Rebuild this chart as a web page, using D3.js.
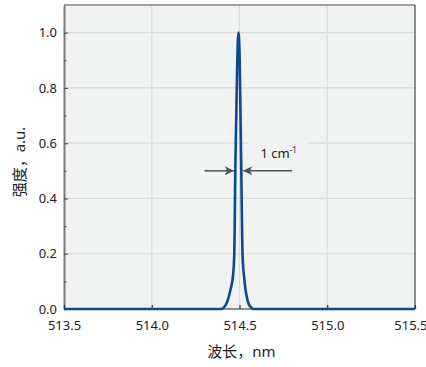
<!DOCTYPE html>
<html>
<head>
<meta charset="utf-8">
<script src="https://cdn.jsdelivr.net/npm/d3@7"></script>
<style>
  body { margin: 0; background: #fff; }
  text { font-family: "Noto Sans", "Noto Sans CJK SC", sans-serif; fill: #222; }
</style>
</head>
<body>
<div id="chart"></div>
<script>
// spectrum (wavelength in nm, normalised intensity)
var wavelength = [513.5, 513.8, 514.1, 514.3, 514.397, 514.4143, 514.4257, 514.4371, 514.4486, 514.4629,
    514.4703, 514.4726, 514.476, 514.4817, 514.4874, 514.4943, 514.5011, 514.5057, 514.5103, 514.5143,
    514.5171, 514.5257, 514.5343, 514.5429, 514.5514, 514.5629, 514.58, 514.8, 515.1, 515.5];
var intensity = [0, 0, 0, 0, 0, 0.008, 0.02, 0.04, 0.07, 0.12,
    0.2, 0.3, 0.5, 0.7, 0.9, 1.0, 0.9, 0.7, 0.5, 0.3,
    0.2, 0.12, 0.07, 0.04, 0.02, 0.008, 0, 0, 0, 0];

var xTicks = [513.5, 514.0, 514.5, 515.0, 515.5];
var yTicks = [0, 0.2, 0.4, 0.6, 0.8, 1.0];
var yMinor = [0.1, 0.3, 0.5, 0.7, 0.9];

var width = 426, height = 367;
var margin = {left: 64, right: 11, top: 5, bottom: 58};
var w = width - margin.left - margin.right,
    h = height - margin.top - margin.bottom;

var svg = d3.select("#chart").append("svg")
    .attr("width", width)
    .attr("height", height);
var g = svg.append("g").attr("transform", "translate(" + margin.left + "," + margin.top + ")");

var x = d3.scaleLinear().domain([513.5, 515.5]).range([0, w]);
var y = d3.scaleLinear().domain([0, 1.1]).range([h, 0]);

g.append("rect").attr("width", w).attr("height", h).attr("fill", "#f1f3f3");

// grid
g.selectAll(".hgrid").data(yTicks.slice(1))
    .enter().append("line")
    .attr("x1", 0).attr("x2", w)
    .attr("y1", function(d) { return y(d); }).attr("y2", function(d) { return y(d); })
    .attr("stroke", "#d9dbdb").attr("stroke-width", 1.2);
g.selectAll(".vgrid").data(xTicks.slice(1, -1))
    .enter().append("line")
    .attr("x1", function(d) { return x(d); }).attr("x2", function(d) { return x(d); })
    .attr("y1", 0).attr("y2", h)
    .attr("stroke", "#d9dbdb").attr("stroke-width", 1.2);

// box behind the annotation text hides the grid line
g.append("rect")
    .attr("x", x(514.551)).attr("y", y(0.612))
    .attr("width", x(514.894) - x(514.551)).attr("height", y(0.525) - y(0.612))
    .attr("fill", "#f1f3f3");

// frame
g.append("line").attr("x1", 0).attr("x2", w).attr("y1", 0).attr("y2", 0)
    .attr("stroke", "#808080").attr("stroke-width", 1.5);
g.append("line").attr("x1", w).attr("x2", w).attr("y1", 0).attr("y2", h)
    .attr("stroke", "#222").attr("stroke-width", 1);
g.append("line").attr("x1", 0).attr("x2", w).attr("y1", h).attr("y2", h)
    .attr("stroke", "#222").attr("stroke-width", 1);

// y axis, ticks inside
var yAxis = g.append("g")
    .call(d3.axisLeft(y).tickValues(yTicks).tickFormat(d3.format(".1f")).tickSizeInner(-4).tickSizeOuter(0).tickPadding(7));
yAxis.select(".domain").attr("stroke", "#7a7a7a").attr("stroke-width", 2);
yAxis.selectAll(".tick line").attr("stroke", "#555").attr("stroke-width", 1.2);
yAxis.selectAll("text").attr("font-size", 13).attr("fill", "#222");
g.append("g")
    .call(d3.axisLeft(y).tickValues(yMinor).tickFormat("").tickSizeInner(-2.5).tickSizeOuter(0))
    .call(function(s) { s.select(".domain").remove(); })
    .selectAll(".tick line").attr("stroke", "#555").attr("stroke-width", 1.2);

// x axis, ticks inside
var xAxis = g.append("g").attr("transform", "translate(0," + h + ")")
    .call(d3.axisBottom(x).tickValues(xTicks).tickFormat(d3.format(".1f")).tickSizeInner(-4).tickSizeOuter(0).tickPadding(12));
xAxis.select(".domain").remove();
xAxis.selectAll(".tick line").attr("stroke", "#333").attr("stroke-width", 1.2);
xAxis.selectAll("text").attr("font-size", 13).attr("fill", "#222");
// last label is pushed left so it stays inside the window
xAxis.selectAll(".tick text").filter(function(d) { return d === 515.5; })
    .attr("text-anchor", "end").attr("x", margin.right + 1);

// spectrum line
var line = d3.line()
    .x(function(d, i) { return x(wavelength[i]); })
    .y(function(d) { return y(d); })
    .curve(d3.curveMonotoneX);
g.append("path")
    .datum(intensity)
    .attr("d", line)
    .attr("fill", "none")
    .attr("stroke", "#0b4a8c")
    .attr("stroke-width", 2.6)
    .attr("stroke-linejoin", "round");

// FWHM arrows
var defs = svg.append("defs");
defs.append("marker")
    .attr("id", "head")
    .attr("viewBox", "0 0 10 10")
    .attr("refX", 10).attr("refY", 5)
    .attr("markerWidth", 10).attr("markerHeight", 9)
    .attr("markerUnits", "userSpaceOnUse")
    .attr("orient", "auto")
    .append("path").attr("d", "M0,0L10,5L0,10L2.5,5Z").attr("fill", "#4b535c");

g.append("line")
    .attr("x1", x(514.30)).attr("x2", x(514.4674))
    .attr("y1", y(0.5)).attr("y2", y(0.5))
    .attr("stroke", "#4b535c").attr("stroke-width", 1.5)
    .attr("marker-end", "url(#head)");
g.append("line")
    .attr("x1", x(514.80)).attr("x2", x(514.5211))
    .attr("y1", y(0.5)).attr("y2", y(0.5))
    .attr("stroke", "#4b535c").attr("stroke-width", 1.5)
    .attr("marker-end", "url(#head)");

var lab = g.append("text")
    .attr("x", x(514.62)).attr("y", y(0.547))
    .attr("font-size", 13);
lab.append("tspan").text("1 cm");
lab.append("tspan").attr("dy", -5).attr("font-size", 8).text("-1");

// axis titles
svg.append("text")
    .attr("x", margin.left + w / 2 + 2).attr("y", 357)
    .attr("text-anchor", "middle").attr("font-size", 15)
    .text("波长，nm");
svg.append("text")
    .attr("transform", "translate(25," + (margin.top + h / 2 + 5) + ") rotate(-90)")
    .attr("text-anchor", "middle").attr("font-size", 15)
    .text("强度，a.u.");
</script>
</body>
</html>
